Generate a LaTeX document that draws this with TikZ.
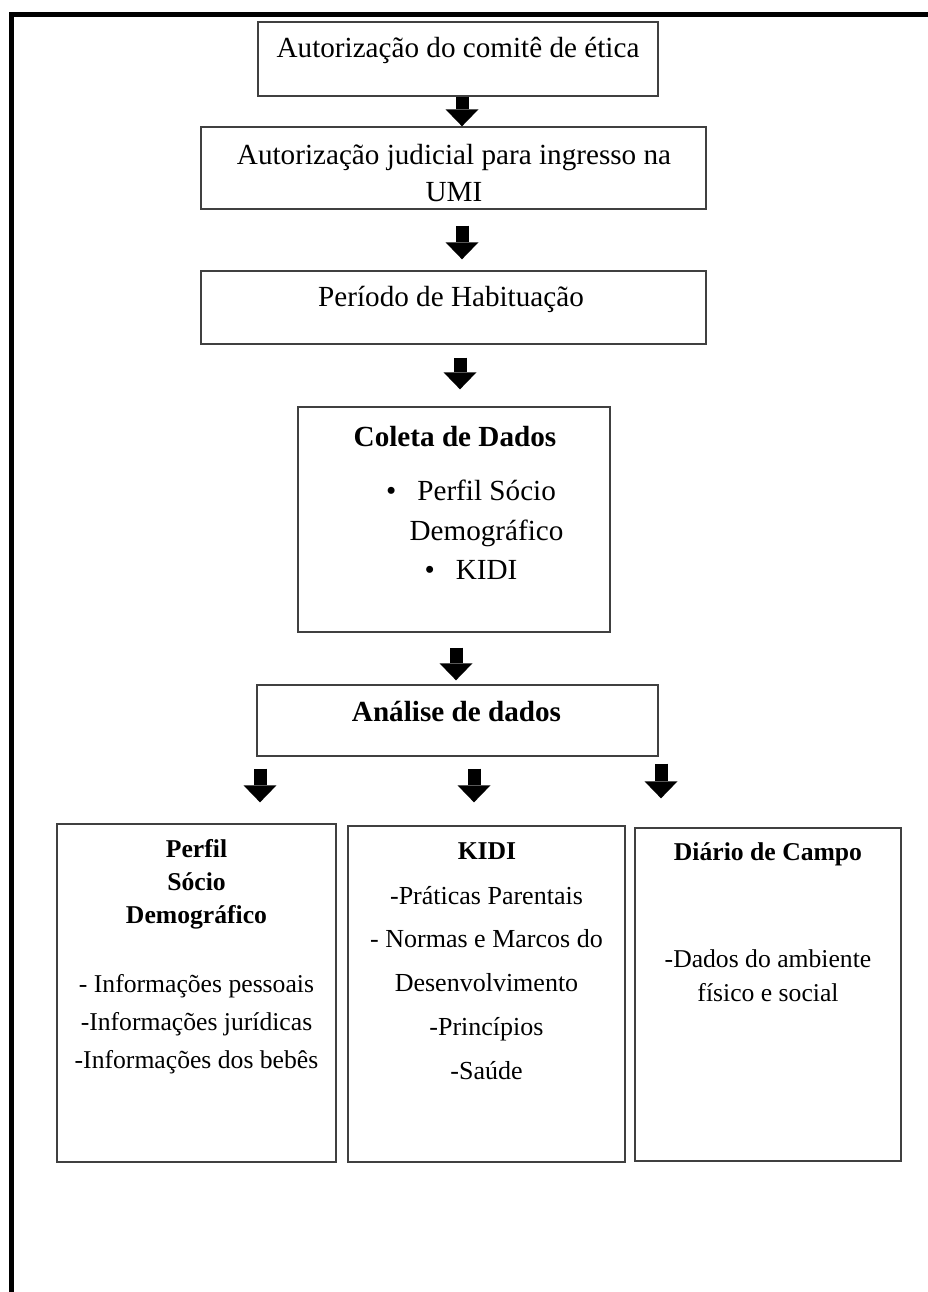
\documentclass[tikz,border=0pt]{standalone}
\usepackage{fontspec}
\setmainfont{Liberation Serif}
\usetikzlibrary{arrows.meta}

\tikzset{
	box/.style = {draw = black!75, line width = 0.8pt, inner sep = 0pt},
	txt/.style = {anchor = base, inner sep = 0pt, align = center},
	big/.style = {font = \fontsize{16.6}{21}\selectfont},
	small/.style = {font = \fontsize{14.6}{22}\selectfont},
	blockarrow/.style = {line width = 0.26cm, -{Triangle[width = 0.66cm, length = 0.34cm, line width = 0pt]}}
}

\begin{document}
\begin{tikzpicture}[x = 0.02cm, y = -0.02cm]

	% Page and frame
	
	\useasboundingbox (0, 0) rectangle (928, 1292);
	\draw [line width = 2.3pt] (11.5, 1292) -- (11.5, 14.5) -- (928, 14.5);
	
	% Steps (text nodes sit on the baseline of their last line)
	
	\node (comite) [box, minimum width = 8cm, minimum height = 1.48cm] at (458, 59) {};
	\node [txt, big] at (458, 57) {Autorização do comitê de ética};
	
	\node (judicial) [box, minimum width = 10.1cm, minimum height = 1.64cm] at (453.5, 168) {};
	\node [txt, big] at (454, 201) {Autorização judicial para ingresso na\\UMI};
	
	\node (hab) [box, minimum width = 10.1cm, minimum height = 1.46cm] at (453.5, 307.5) {};
	\node [txt, big] at (451, 306) {Período de Habituação};
	
	\node (coleta) [box, minimum width = 6.24cm, minimum height = 4.5cm] at (454, 519.5) {};
	\node [txt, big] at (455, 446) {\textbf{Coleta de Dados}};
	\node [txt, big] at (471, 500) {\textbullet\hspace{12pt}Perfil Sócio};
	\node [txt, big] at (486.5, 540) {Demográfico};
	\node [txt, big] at (471, 579) {\textbullet\hspace{12pt}KIDI};
	
	\node (analise) [box, minimum width = 8.02cm, minimum height = 1.42cm] at (457.5, 720.5) {};
	\node [txt, big] at (456.5, 721) {\textbf{Análise de dados}};
	
	% Results
	
	\node (perfil) [box, minimum width = 5.58cm, minimum height = 6.76cm] at (196.5, 993) {};
	\node [txt, font = \fontsize{14.6}{18.7}\selectfont\bfseries] at (196.5, 923) {Perfil\\Sócio\\Demográfico};
	\node [txt, font = \fontsize{14.6}{21.5}\selectfont] at (196.5, 1068) {- Informações pessoais\\-Informações jurídicas\\-Informações dos bebês};
	
	\node (kidi) [box, minimum width = 5.54cm, minimum height = 6.72cm] at (486.5, 994) {};
	\node [txt, small] at (487, 859) {\textbf{KIDI}};
	\node [txt, font = \fontsize{14.8}{24.9}\selectfont] at (486.5, 1079) {-Práticas Parentais\\- Normas e Marcos do\\Desenvolvimento\\-Princípios\\-Saúde};
	
	\node (diario) [box, minimum width = 5.32cm, minimum height = 6.66cm] at (768, 994.5) {};
	\node [txt, small] at (768, 860) {\textbf{Diário de Campo}};
	\node [txt, font = \fontsize{14.6}{19.3}\selectfont] at (768, 1001) {-Dados do ambiente\\físico e social};
	
	% Arrows
	
	\draw [blockarrow] (462, 0 |- comite.south) -- (462, 0 |- judicial.north);
	\draw [blockarrow, shorten < = 0.32cm, shorten > = 0.22cm] (462, 0 |- judicial.south) -- (462, 0 |- hab.north);
	\draw [blockarrow, shorten < = 0.26cm, shorten > = 0.34cm] (460, 0 |- hab.south) -- (460, 0 |- coleta.north);
	\draw [blockarrow, shorten < = 0.3cm, shorten > = 0.08cm] (456, 0 |- coleta.south) -- (456, 0 |- analise.north);
	\draw [blockarrow, shorten < = 0.24cm, shorten > = 0.42cm] (260, 0 |- analise.south) -- (260, 0 |- perfil.north);
	\draw [blockarrow, shorten < = 0.24cm, shorten > = 0.46cm] (474, 0 |- analise.south) -- (474, 0 |- kidi.north);
	\draw [blockarrow, shorten < = 0.14cm, shorten > = 0.58cm] (661, 0 |- analise.south) -- (661, 0 |- diario.north);

\end{tikzpicture}
\end{document}
